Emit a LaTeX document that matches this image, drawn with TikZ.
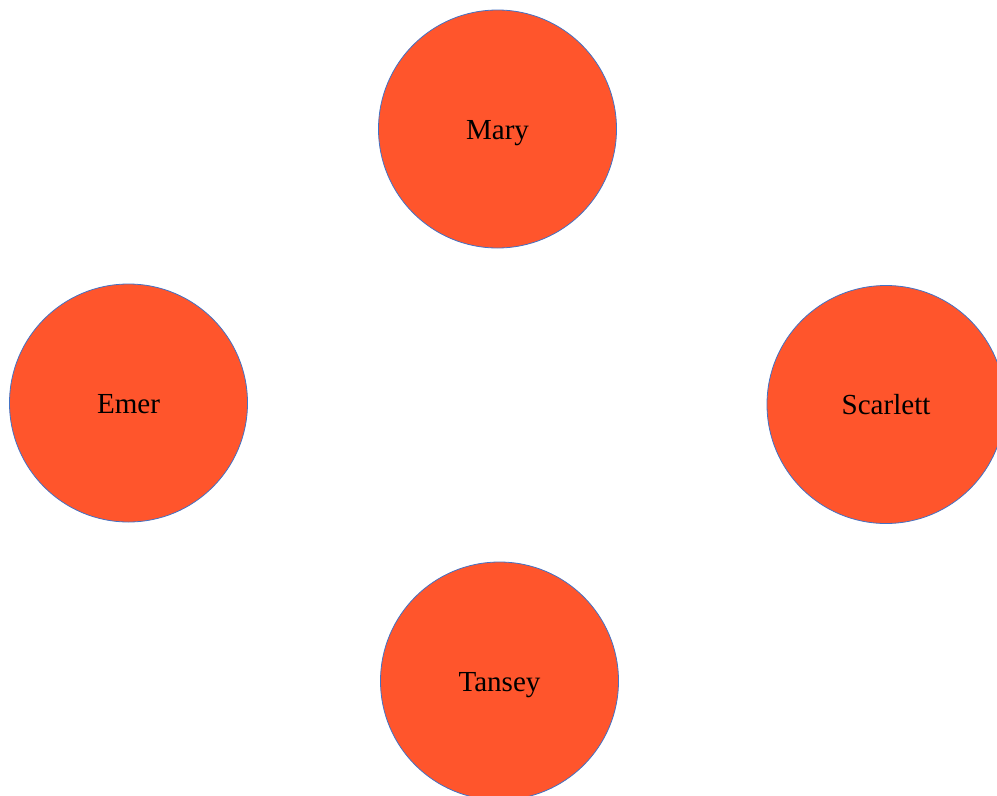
\documentclass[tikz,border=0pt]{standalone}
\usepackage{fontspec}
\setmainfont{Liberation Serif}
\usepackage{tikz}

\definecolor{friendfill}{RGB}{255,85,44}
\definecolor{friendline}{RGB}{68,114,196}

\begin{document}
\begin{tikzpicture}[x=0.75pt, y=-0.75pt,
    main/.style = {draw=friendline, line width=0.6pt, fill=friendfill, circle,
                   minimum size=178.5pt, inner sep=0pt,
                   text height=18pt, text depth=3pt,
                   font=\fontsize{21.8}{26}\selectfont}]
    \useasboundingbox (0,0) rectangle (997,796);
    \clip (0,0) rectangle (997,796);
    \node[main] (mary)     at (497.5,129)   {Mary};
    \node[main] (emer)     at (128.5,403)   {Emer};
    \node[main] (scarlett) at (886,404.5)   {Scarlett};
    \node[main] (tansey)   at (499.5,681)   {Tansey};
\end{tikzpicture}
\end{document}
